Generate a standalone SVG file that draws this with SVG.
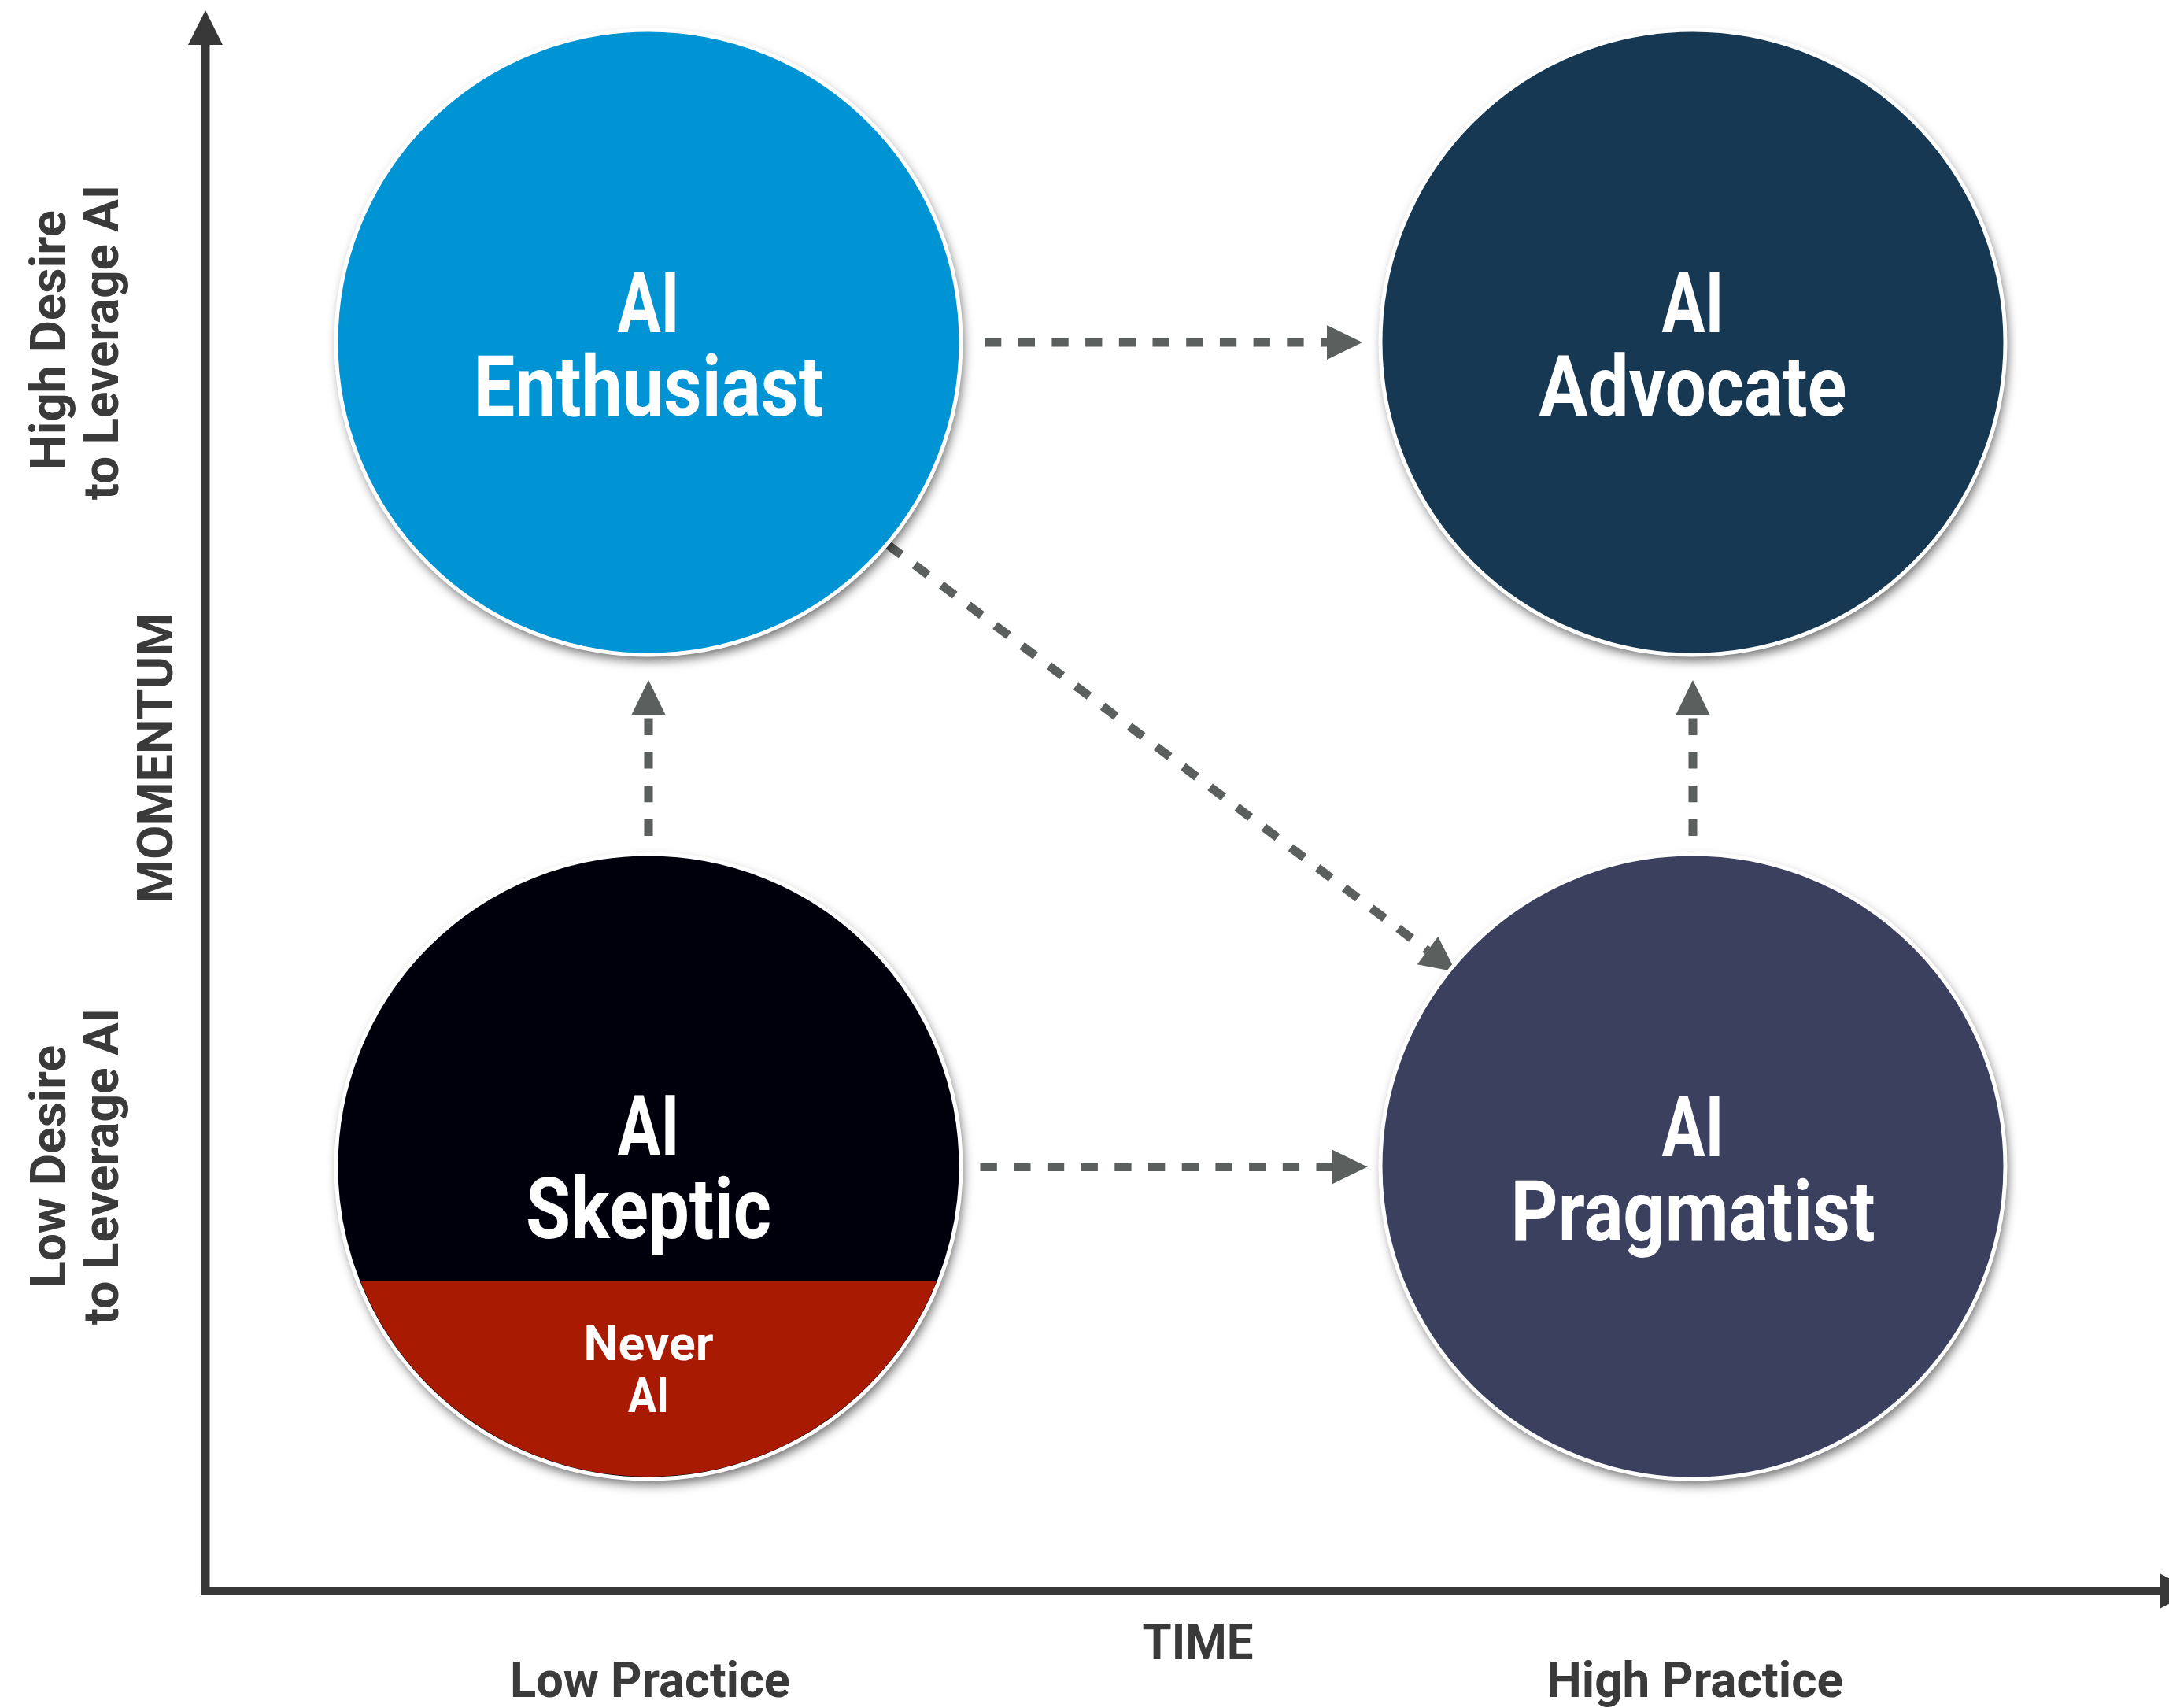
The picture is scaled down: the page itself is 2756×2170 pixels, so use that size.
<svg xmlns="http://www.w3.org/2000/svg" width="2756" height="2170" viewBox="0 0 2756 2170">
<style>
.title{font-family:Roboto,"Liberation Sans",sans-serif;font-weight:700;font-size:108px;fill:#ffffff;text-anchor:middle}
.small{font-family:Roboto,"Liberation Sans",sans-serif;font-weight:700;font-size:62px;fill:#ffffff;text-anchor:middle}
.axis{font-family:Roboto,"Liberation Sans",sans-serif;font-weight:700;font-size:63px;fill:#3a3a3a;text-anchor:middle}
.ring{fill:none;stroke:#ffffff;stroke-width:5}
.dash{fill:none;stroke:#5b5f5d;stroke-width:11;stroke-dasharray:21.3 21.4}
</style>
<defs>
<filter id="shadow" x="-20%" y="-20%" width="140%" height="140%">
<feDropShadow dx="3" dy="7" stdDeviation="7" flood-color="#000000" flood-opacity="0.6"/>
</filter>
<marker id="head" markerUnits="userSpaceOnUse" markerWidth="46" markerHeight="44" refX="0" refY="22" orient="auto" overflow="visible">
<path d="M0,0 L45,22 L0,44 Z" fill="#5b5f5d"/>
</marker>
<clipPath id="skclip"><circle cx="824" cy="1482" r="394"/></clipPath>
</defs>
<rect width="2756" height="2170" fill="#ffffff"/>

<g id="axes">
<line x1="261" y1="55" x2="261" y2="2027" stroke="#383838" stroke-width="11"/>
<polygon points="261,13 239,57 283,57" fill="#383838"/>
<line x1="255" y1="2021.5" x2="2746" y2="2021.5" stroke="#383838" stroke-width="11"/>
<polygon points="2744,1999 2788,2021.5 2744,2044" fill="#383838"/>
</g>

<g id="axis-labels">
<text class="axis" transform="translate(83,432) rotate(-90)" textLength="330" lengthAdjust="spacingAndGlyphs">High Desire</text>
<text class="axis" transform="translate(150,435) rotate(-90)" textLength="400" lengthAdjust="spacingAndGlyphs">to Leverage AI</text>
<text class="axis" transform="translate(219,963) rotate(-90)" textLength="368" lengthAdjust="spacingAndGlyphs">MOMENTUM</text>
<text class="axis" transform="translate(83,1482) rotate(-90)" textLength="308" lengthAdjust="spacingAndGlyphs">Low Desire</text>
<text class="axis" transform="translate(150,1482) rotate(-90)" textLength="402" lengthAdjust="spacingAndGlyphs">to Leverage AI</text>
<text class="axis" x="1522" y="2108" textLength="141" lengthAdjust="spacingAndGlyphs">TIME</text>
<text class="axis" x="826" y="2156" textLength="356" lengthAdjust="spacingAndGlyphs">Low Practice</text>
<text class="axis" x="2154" y="2156" textLength="376" lengthAdjust="spacingAndGlyphs">High Practice</text>
</g>

<g id="connectors">
<line class="dash" x1="1251" y1="435" x2="1686" y2="435" marker-end="url(#head)"/>
<line class="dash" x1="1245.5" y1="1482.5" x2="1692.5" y2="1482.5" marker-end="url(#head)"/>
<line class="dash" x1="824" y1="1062" x2="824" y2="909" marker-end="url(#head)"/>
<line class="dash" x1="2151" y1="1062" x2="2151" y2="909" marker-end="url(#head)"/>
<line class="dash" x1="1128" y1="692" x2="1814" y2="1207.6" marker-end="url(#head)"/>
</g>

<g id="node-enthusiast">
<circle cx="824" cy="435" r="397" fill="#0694d4" filter="url(#shadow)"/>
<circle class="ring" cx="824" cy="435" r="397"/>
<text class="title"><tspan x="824" y="421.5" textLength="79" lengthAdjust="spacingAndGlyphs">AI</tspan><tspan x="824" y="528" textLength="445" lengthAdjust="spacingAndGlyphs">Enthusiast</tspan></text>
</g>

<g id="node-advocate">
<circle cx="2151" cy="435" r="397" fill="#153753" filter="url(#shadow)"/>
<circle class="ring" cx="2151" cy="435" r="397"/>
<text class="title"><tspan x="2151" y="421.5" textLength="79" lengthAdjust="spacingAndGlyphs">AI</tspan><tspan x="2151" y="528" textLength="391" lengthAdjust="spacingAndGlyphs">Advocate</tspan></text>
</g>

<g id="node-skeptic">
<circle cx="824" cy="1482" r="397" fill="#020611" filter="url(#shadow)"/>
<rect x="420" y="1628" width="810" height="260" fill="#a81a02" clip-path="url(#skclip)"/>
<circle class="ring" cx="824" cy="1482" r="397"/>
<text class="title"><tspan x="824" y="1467.5" textLength="79" lengthAdjust="spacingAndGlyphs">AI</tspan><tspan x="824" y="1573" textLength="312" lengthAdjust="spacingAndGlyphs">Skeptic</tspan></text>
<text class="small"><tspan x="824" y="1728" textLength="165" lengthAdjust="spacingAndGlyphs">Never</tspan><tspan x="824" y="1794" textLength="52" lengthAdjust="spacingAndGlyphs">AI</tspan></text>
</g>

<g id="node-pragmatist">
<circle cx="2151" cy="1482" r="397" fill="#3a405f" filter="url(#shadow)"/>
<circle class="ring" cx="2151" cy="1482" r="397"/>
<text class="title"><tspan x="2151" y="1469" textLength="79" lengthAdjust="spacingAndGlyphs">AI</tspan><tspan x="2151" y="1576" textLength="463" lengthAdjust="spacingAndGlyphs">Pragmatist</tspan></text>
</g>
</svg>
